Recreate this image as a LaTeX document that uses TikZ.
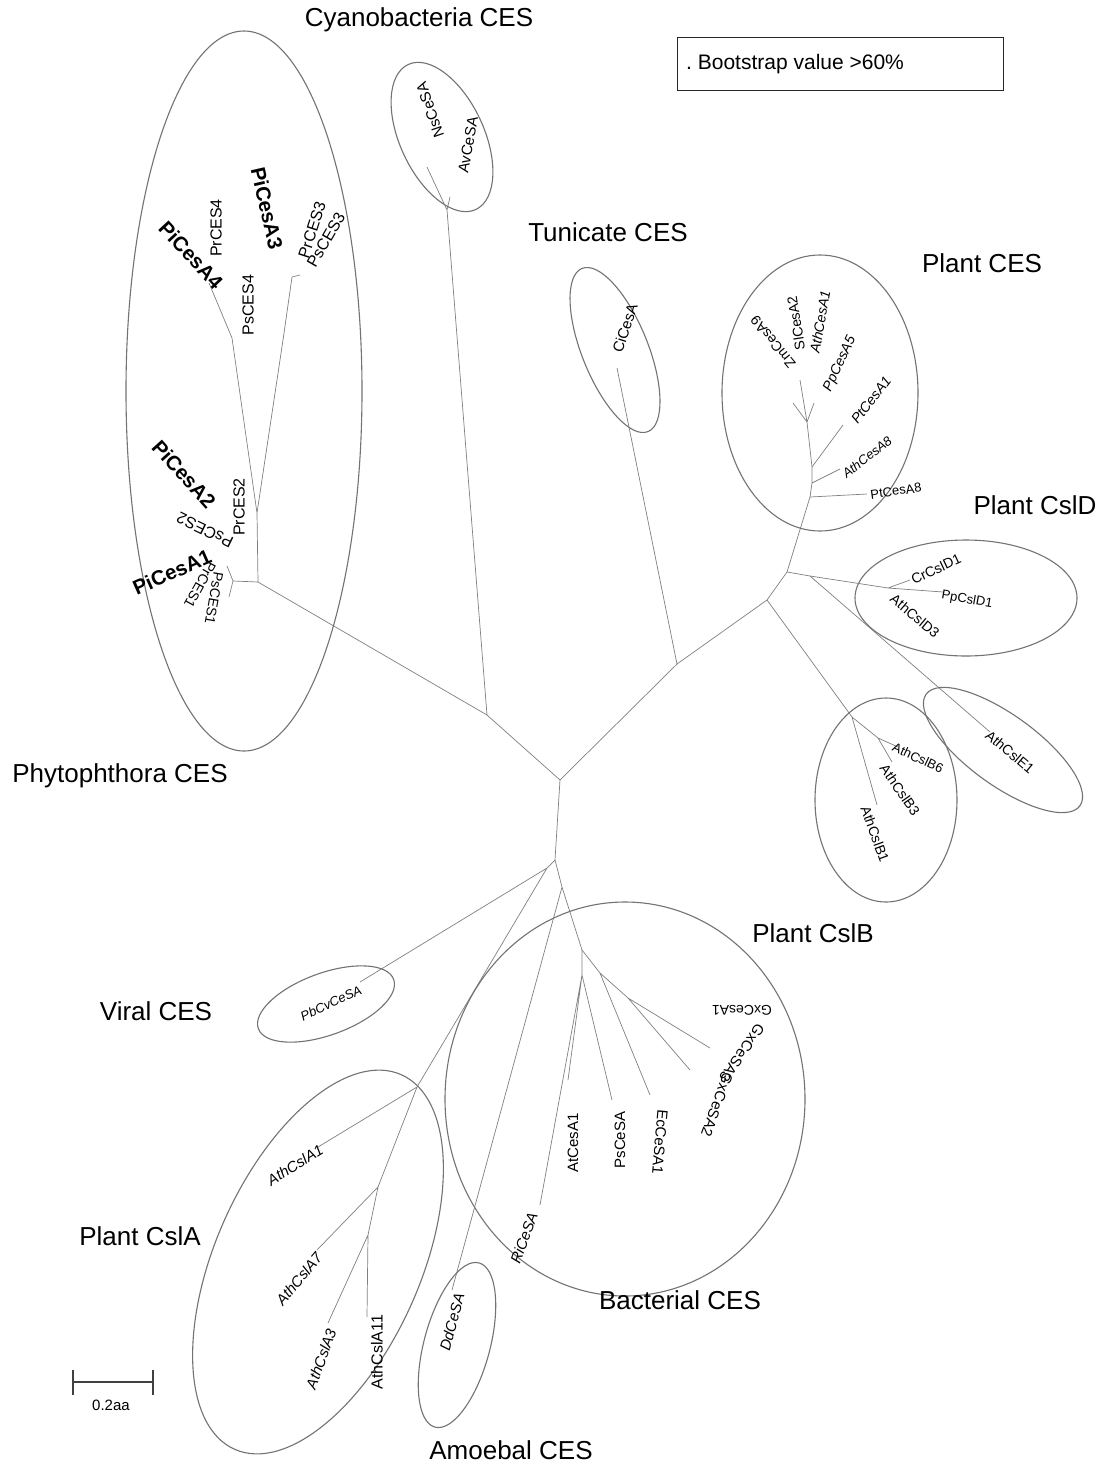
\documentclass[tikz,border=0pt]{standalone}
\usepackage{fontspec}
\setmainfont{Liberation Sans}
\usetikzlibrary{shapes.geometric}
\begin{document}
\begin{tikzpicture}[x=1pt,y=-1pt,
  br/.style={draw=black!50, line width=0.7pt},
  clade/.style={draw=black!55, line width=1.1pt, ellipse, inner sep=0pt},
  title/.style={font=\fontsize{26}{29}\selectfont, inner sep=0pt},
  lab/.style={font=\fontsize{14}{15}\selectfont, inner sep=0pt},
  ilab/.style={font=\fontsize{14}{15}\selectfont\itshape, inner sep=0pt},
  plab/.style={font=\fontsize{16}{17}\selectfont, inner sep=0pt},
  blab/.style={font=\fontsize{20.5}{22}\selectfont\bfseries, inner sep=0pt},
]
\useasboundingbox (0,0) rectangle (1102,1465);
\fill[white] (0,0) rectangle (1102,1465);

% ---------- tree coordinates ----------
\coordinate (c0) at (560,780);
\coordinate (a) at (487,715);
\coordinate (b) at (677,664);
\coordinate (d) at (555,860);
% cyanobacteria
\coordinate (cy) at (447,210);
\coordinate (tNs) at (427,167);
\coordinate (tAv) at (450,197);
% phytophthora
\coordinate (p) at (258,582);
\coordinate (p2) at (257,513);
\coordinate (g4) at (232,338);
\coordinate (t4) at (209,283);
\coordinate (g3) at (283,340);
\coordinate (t3) at (292,277);
\coordinate (t3b) at (300,275);
\coordinate (g1) at (233,581);
\coordinate (t1a) at (227,566);
\coordinate (t1b) at (229,597);
% tunicate
\coordinate (tCi) at (617,368);
% plants
\coordinate (e) at (767,600);
\coordinate (f) at (787,572);
\coordinate (f2) at (810,576);
\coordinate (dn) at (888,588);
\coordinate (tCr) at (910,580);
\coordinate (tPpD) at (943,592);
\coordinate (tE1) at (990,732);
\coordinate (h) at (852,717);
\coordinate (tB1) at (877,805);
\coordinate (hn2) at (878,738);
\coordinate (tB6) at (898,747);
\coordinate (tB3) at (892,762);
\coordinate (pcA) at (810,497);
\coordinate (pcB) at (812,483);
\coordinate (pcC) at (812,467);
\coordinate (pcD) at (807,422);
\coordinate (tPt8) at (867,494);
\coordinate (tAth8) at (840,469);
\coordinate (tPt1) at (843,425);
\coordinate (tPp5) at (814,403);
\coordinate (tZm) at (800,380);
\coordinate (tSl) at (793,403);
% lower part
\coordinate (d3) at (547,868);
\coordinate (tPb) at (360,982);
\coordinate (an) at (417,1087);
\coordinate (tA1) at (318,1147);
\coordinate (an2) at (378,1187);
\coordinate (tA7) at (317,1250);
\coordinate (an3) at (368,1235);
\coordinate (tA3) at (328,1323);
\coordinate (tA11) at (367,1317);
\coordinate (d4) at (562,887);
\coordinate (tDd) at (452,1290);
\coordinate (d5) at (582,950);
\coordinate (bn1) at (582,975);
\coordinate (tRi) at (540,1205);
\coordinate (tAt) at (568,1080);
\coordinate (tPs) at (612,1100);
\coordinate (bn2) at (600,973);
\coordinate (tEc) at (650,1095);
\coordinate (bn3) at (628,998);
\coordinate (tGx2) at (690,1070);
\coordinate (tGx3) at (710,1048);

% ---------- branches ----------
\draw[br] (c0)--(a) (c0)--(b) (c0)--(d);
\draw[br] (a)--(cy) (cy)--(tNs) (cy)--(tAv);
\draw[br] (a)--(p) (p)--(p2) (p2)--(g4)--(t4) (p2)--(g3)--(t3) (t3)--(t3b);
\draw[br] (p)--(g1) (g1)--(t1a) (g1)--(t1b);
\draw[br] (b)--(tCi) (b)--(e) (e)--(f) (f)--(f2) (f2)--(dn);
\draw[br] (dn)--(tCr) (dn)--(tPpD) (f2)--(tE1);
\draw[br] (e)--(h) (h)--(tB1) (h)--(hn2) (hn2)--(tB6) (hn2)--(tB3);
\draw[br] (f)--(pcA)--(pcB)--(pcC)--(pcD);
\draw[br] (pcA)--(tPt8) (pcB)--(tAth8) (pcC)--(tPt1);
\draw[br] (pcD)--(tPp5) (pcD)--(tZm) (pcD)--(tSl);
\draw[br] (d)--(d3) (d3)--(tPb) (d3)--(an) (an)--(tA1) (an)--(an2);
\draw[br] (an2)--(tA7) (an2)--(an3) (an3)--(tA3) (an3)--(tA11);
\draw[br] (d)--(d4) (d4)--(tDd) (d4)--(d5) (d5)--(bn1);
\draw[br] (bn1)--(tRi) (bn1)--(tAt) (bn1)--(tPs);
\draw[br] (d5)--(bn2) (bn2)--(tEc) (bn2)--(bn3) (bn3)--(tGx2) (bn3)--(tGx3);

% ---------- clade ellipses ----------
\node[clade, minimum width=236, minimum height=720] (ePhy) at (244,391) {};
\node[clade, minimum width=160, minimum height=84, rotate=-65] (eCya) at (442,137) {};
\node[clade, minimum width=176, minimum height=66, rotate=-68] (eTun) at (615,350) {};
\node[clade, minimum width=196, minimum height=276] (ePla) at (820,393) {};
\node[clade, minimum width=222, minimum height=116] (eCslD) at (966,598) {};
\node[clade, minimum width=190, minimum height=70, rotate=-36] (eCslE) at (1003,750) {};
\node[clade, minimum width=142, minimum height=204] (eCslB) at (886,800) {};
\node[clade, minimum width=360, minimum height=394] (eBac) at (625,1099) {};
\node[clade, minimum width=144, minimum height=62, rotate=20] (eVir) at (326,1004) {};
\node[clade, minimum width=410, minimum height=205, rotate=66] (eCslA) at (318,1262) {};
\node[clade, minimum width=170, minimum height=66, rotate=75] (eAmo) at (457,1345) {};

% ---------- group titles ----------
\node[title] (tiCya) at (419,20) {Cyanobacteria CES};
\node[title] (tiTun) at (608,232) {Tunicate CES};
\node[title] (tiPla) at (982,263) {Plant CES};
\node[title] (tiCslD) at (1035,505) {Plant CslD};
\node[title] (tiPhy) at (120,776) {Phytophthora CES};
\node[title] (tiCslB) at (813,933) {Plant CslB};
\node[title] (tiVir) at (156,1011) {Viral CES};
\node[title] (tiCslA) at (140,1236) {Plant CslA};
\node[title] (tiBac) at (680,1300) {Bacterial CES};
\node[title] (tiAmo) at (511,1450) {Amoebal CES};

% ---------- bootstrap legend ----------
\node[draw=black!85, line width=1pt, minimum width=326, minimum height=53, inner sep=0pt] (legend) at (840,63.5) {};
\node[anchor=west, font=\fontsize{21}{23}\selectfont, inner sep=0pt] (legtxt) at (686,64) {.\ Bootstrap value {>}60\%};

% ---------- scale bar ----------
\coordinate (sbl) at (73,1382);
\coordinate (sbr) at (153,1382);
\draw[black!75, line width=1.2pt] (sbl)--(sbr);
\draw[black!75, line width=1.2pt] ([yshift=12]sbl)--([yshift=-13]sbl) ([yshift=12]sbr)--([yshift=-13]sbr);
\node[font=\fontsize{15}{16}\selectfont, inner sep=0pt] (sbtxt) at (111,1405) {0.2aa};

% ---------- leaf labels ----------
\node[lab, font=\fontsize{15}{16}\selectfont, rotate=109] (lNs) at (430,110) {NsCeSA};
\node[lab, font=\fontsize{15}{16}\selectfont, rotate=80] (lAv) at (468,145) {AvCeSA};

\node[blab, rotate=-47] (lPi4) at (191,255) {PiCesA4};
\node[plab, rotate=90] (lPr4) at (216,228) {PrCES4};
\node[plab, rotate=90] (lPs4) at (248,305) {PsCES4};
\node[blab, rotate=-77] (lPi3) at (267,208) {PiCesA3};
\node[plab, rotate=72] (lPr3) at (312,230) {PrCES3};
\node[plab, rotate=60] (lPs3) at (326,240) {PsCES3};
\node[blab, rotate=-48] (lPi2) at (184,474) {PiCesA2};
\node[plab, rotate=90] (lPr2) at (239,507) {PrCES2};
\node[plab, rotate=154] (lPs2) at (205,530) {PsCES2};
\node[blab, rotate=24] (lPi1) at (172,572) {PiCesA1};
\node[plab, font=\fontsize{14}{15}\selectfont, rotate=-119] (lPr1) at (200,585) {PrCES1};
\node[plab, font=\fontsize{14}{15}\selectfont, rotate=-100] (lPs1) at (214,598) {PsCES1};

\node[lab, font=\fontsize{15}{16}\selectfont, rotate=72] (lCi) at (625,328) {CiCesA};

\node[lab, rotate=129] (lZm) at (773,342) {ZmCesA9};
\node[lab, rotate=99] (lSl) at (796,323) {SlCesA2};
\node[ilab, rotate=80] (lAth1) at (820,322) {AthCesA1};
\node[ilab, rotate=65] (lPp5) at (840,364) {PpCesA5};
\node[ilab, rotate=52] (lPt1) at (871,400) {PtCesA1};
\node[ilab, font=\fontsize{13}{14}\selectfont\itshape, rotate=38] (lAth8) at (867,457) {AthCesA8};
\node[lab, font=\fontsize{13}{14}\selectfont, rotate=8] (lPt8) at (896,491) {PtCesA8};

\node[lab, rotate=25] (lCr) at (936,569) {CrCslD1};
\node[lab, font=\fontsize{13}{14}\selectfont, rotate=-10] (lPpD) at (967,600) {PpCslD1};
\node[lab, rotate=-40] (lAthD3) at (915,616) {AthCslD3};
\node[lab, rotate=-40] (lE1) at (1010,752) {AthCslE1};
\node[lab, font=\fontsize{13}{14}\selectfont, rotate=-25] (lB6) at (918,758) {AthCslB6};
\node[lab, rotate=-55] (lB3) at (900,790) {AthCslB3};
\node[lab, rotate=-70] (lB1) at (875,834) {AthCslB1};

\node[ilab, font=\fontsize{13}{14}\selectfont\itshape, rotate=25] (lPb) at (331,1003) {PbCvCeSA};
\node[ilab, font=\fontsize{15}{16}\selectfont\itshape, rotate=32] (lA1) at (295,1165) {AthCslA1};
\node[ilab, font=\fontsize{15}{16}\selectfont\itshape, rotate=50] (lA7) at (299,1279) {AthCslA7};
\node[ilab, font=\fontsize{15}{16}\selectfont\itshape, rotate=70] (lA3) at (321,1359) {AthCslA3};
\node[lab, font=\fontsize{16}{17}\selectfont, rotate=90] (lA11) at (377,1352) {AthCslA11};
\node[ilab, font=\fontsize{15}{16}\selectfont\itshape, rotate=75] (lDd) at (452,1322) {DdCeSA};

\node[ilab, font=\fontsize{15}{16}\selectfont\itshape, rotate=70] (lRi) at (524,1238) {RiCeSA};
\node[lab, font=\fontsize{15}{16}\selectfont, rotate=90] (lAt) at (573,1143) {AtCesA1};
\node[lab, font=\fontsize{15}{16}\selectfont, rotate=90] (lPs) at (620,1140) {PsCeSA};
\node[lab, font=\fontsize{15}{16}\selectfont, rotate=-95] (lEc) at (660,1142) {EcCeSA1};
\node[lab, font=\fontsize{15}{16}\selectfont, rotate=-110] (lGx2) at (717,1105) {GxCeSA2};
\node[lab, font=\fontsize{15}{16}\selectfont, rotate=-125] (lGx3) at (742,1053) {GxCeSA3};
\node[lab, font=\fontsize{14}{15}\selectfont, rotate=180] (lGx1) at (742,1010) {GxCesA1};
\end{tikzpicture}
\end{document}
